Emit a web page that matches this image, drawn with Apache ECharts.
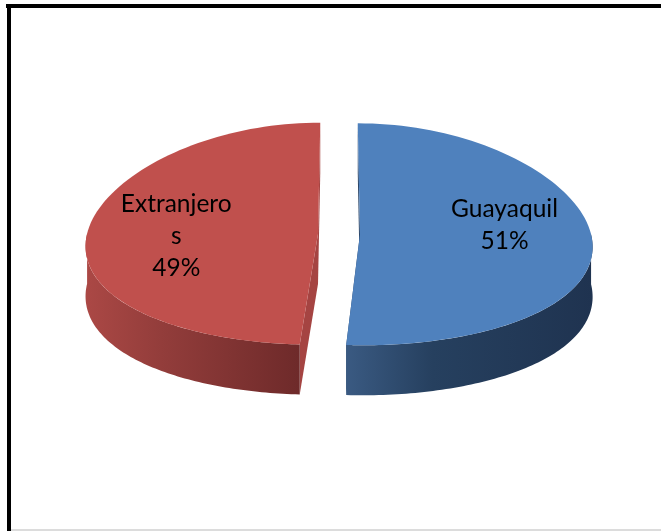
<!DOCTYPE html>
<html>
<head>
<meta charset="utf-8">
<script src="https://cdn.jsdelivr.net/npm/echarts@6/dist/echarts.min.js"></script>
<style>
html,body{margin:0;padding:0;background:#fff;}
#main{width:661px;height:531px;}
</style>
</head>
<body>
<div id="main"></div>
<script>
// datos de la torta
var categorias = ['Guayaquil', 'Extranjeros'];
var valores = [51, 49];

// colores: cara superior, lado frontal (degradado) y corte
var colorCara = ['#4f81bd', '#c0504d'];
var colorLado = [
    ['#3a5a82', '#26405f', '#1f3350'],
    ['#ab4845', '#933d3b', '#6e2a2a']
];
var colorCorte = ['#2c4668', '#a54442'];

var total = valores.reduce(function (s, v) { return s + v; }, 0);
var inicio = [];
var acum = 0;
valores.forEach(function (v) { inicio.push(acum); acum += v; });

// geometria de la torta 3D (centro, radios, alto, separacion, perspectiva)
var CX = 339, CY = 234, RA = 231, RB = 111, ALTO = 50, SEP = 21, PERSP = 0.107;

function proyectar(x, y, baja) {
    var s = 1 + PERSP * (y - CY) / RB;
    return [CX + (x - CX) * s, y + baja];
}
function borde(ox, oy, t, baja) {
    return proyectar(ox + RA * Math.sin(t), oy - RB * Math.cos(t), baja);
}

function dibujar(params, api) {
    var i = params.dataIndex;
    var v = api.value(0);
    var t0 = inicio[i] / total * 2 * Math.PI;
    var t1 = (inicio[i] + v) / total * 2 * Math.PI;
    var tm = (t0 + t1) / 2;
    var ox = CX + SEP * Math.sin(tm);
    var oy = CY - SEP * RB / RA * Math.cos(tm);
    var hijos = [];
    var k, t, n = 90;

    // caras del corte
    [t0, t1].forEach(function (tc) {
        hijos.push({
            type: 'polygon',
            shape: { points: [proyectar(ox, oy, 0), borde(ox, oy, tc, 0), borde(ox, oy, tc, ALTO), proyectar(ox, oy, ALTO)] },
            style: { fill: colorCorte[i] }
        });
    });

    // lado frontal
    var a = Math.max(t0, Math.PI / 2), b = Math.min(t1, 3 * Math.PI / 2);
    if (b > a) {
        var arriba = [], abajo = [];
        for (k = 0; k <= n; k++) {
            t = a + (b - a) * k / n;
            arriba.push(borde(ox, oy, t, 0));
            abajo.push(borde(ox, oy, t, ALTO));
        }
        hijos.push({
            type: 'polygon',
            shape: { points: arriba.concat(abajo.reverse()) },
            style: {
                fill: new echarts.graphic.LinearGradient(0, 0, 1, 0, [
                    { offset: 0, color: colorLado[i][0] },
                    { offset: 0.35, color: colorLado[i][1] },
                    { offset: 1, color: colorLado[i][2] }
                ])
            }
        });
    }

    // cara superior
    var cara = [proyectar(ox, oy, 0)];
    for (k = 0; k <= n; k++) {
        cara.push(borde(ox, oy, t0 + (t1 - t0) * k / n, 0));
    }
    hijos.push({ type: 'polygon', shape: { points: cara }, style: { fill: colorCara[i] } });

    // etiqueta (anclada arriba, como en Excel)
    var pos = proyectar(ox + 0.62 * RA * Math.sin(tm), oy - 0.62 * RB * Math.cos(tm), 0);
    hijos.push({
        type: 'text',
        x: pos[0] + 1,
        y: pos[1] - 43,
        style: {
            text: categorias[i] + '\n' + Math.round(v / total * 100) + '%',
            width: 116,
            overflow: 'breakAll',
            align: 'center',
            verticalAlign: 'top',
            fontFamily: 'Lato',
            fontSize: 24.5,
            lineHeight: 32,
            fill: '#000'
        }
    });

    return { type: 'group', children: hijos };
}

var chart = echarts.init(document.getElementById('main'));
chart.setOption({
    backgroundColor: '#fff',
    animation: false,
    graphic: [
        { type: 'rect', shape: { x: 6, y: 4, width: 655, height: 4 }, style: { fill: '#000' } },
        { type: 'rect', shape: { x: 7, y: 4, width: 4, height: 527 }, style: { fill: '#000' } },
        { type: 'rect', shape: { x: 11, y: 529, width: 650, height: 2 }, style: { fill: '#dcdcdc' } }
    ],
    series: [
        {
            type: 'custom',
            coordinateSystem: 'none',
            renderItem: dibujar,
            data: valores.map(function (v, i) { return { name: categorias[i], value: [v] }; })
        }
    ]
});
</script>
</body>
</html>
